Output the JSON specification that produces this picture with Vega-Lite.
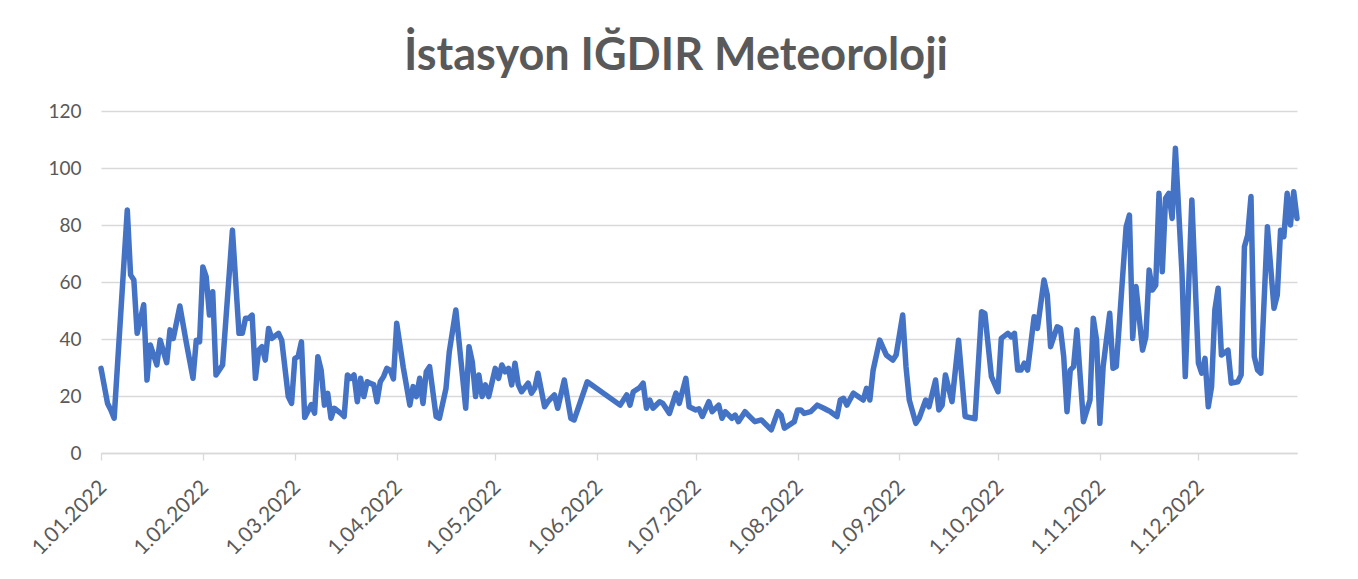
{
  "$schema": "https://vega.github.io/schema/vega-lite/v6.json",
  "width": 1196,
  "height": 342,
  "autosize": {"type": "none"},
  "padding": {"left": 101, "top": 111, "right": 61, "bottom": 126},
  "background": "white",
  "title": {
    "text": "İstasyon IĞDIR Meteoroloji",
    "font": "Lato, sans-serif",
    "fontSize": 45,
    "fontWeight": "bold",
    "color": "#595959",
    "anchor": "middle",
    "baseline": "alphabetic",
    "offset": 38,
    "dy": 51,
    "dx": -23
  },
  "config": {
    "view": {"stroke": null},
    "axis": {
      "labelFont": "Lato, sans-serif",
      "labelFontSize": 19,
      "labelColor": "#595959",
      "gridColor": "#D9D9D9",
      "gridWidth": 1.3,
      "domainColor": "#D9D9D9",
      "domainWidth": 1.3,
      "tickColor": "#D9D9D9",
      "tickWidth": 1.3,
      "title": null
    }
  },
  "data": {
    "values": [
      {"date": "2022-01-01", "value": 29.7},
      {"date": "2022-01-03", "value": 17.4},
      {"date": "2022-01-04", "value": 15.1},
      {"date": "2022-01-05", "value": 12.2},
      {"date": "2022-01-09", "value": 85.3},
      {"date": "2022-01-10", "value": 62.5},
      {"date": "2022-01-11", "value": 60.7},
      {"date": "2022-01-12", "value": 42},
      {"date": "2022-01-14", "value": 52},
      {"date": "2022-01-15", "value": 25.6},
      {"date": "2022-01-16", "value": 37.9},
      {"date": "2022-01-18", "value": 30.9},
      {"date": "2022-01-19", "value": 39.6},
      {"date": "2022-01-21", "value": 31.7},
      {"date": "2022-01-22", "value": 43.2},
      {"date": "2022-01-23", "value": 40.2},
      {"date": "2022-01-25", "value": 51.6},
      {"date": "2022-01-27", "value": 38.5},
      {"date": "2022-01-29", "value": 26.2},
      {"date": "2022-01-30", "value": 39.6},
      {"date": "2022-01-31", "value": 39},
      {"date": "2022-02-01", "value": 65.3},
      {"date": "2022-02-02", "value": 61.9},
      {"date": "2022-02-03", "value": 48.4},
      {"date": "2022-02-04", "value": 56.6},
      {"date": "2022-02-05", "value": 27.4},
      {"date": "2022-02-07", "value": 30.9},
      {"date": "2022-02-10", "value": 78.2},
      {"date": "2022-02-12", "value": 42},
      {"date": "2022-02-13", "value": 42},
      {"date": "2022-02-14", "value": 47.3},
      {"date": "2022-02-15", "value": 47.3},
      {"date": "2022-02-16", "value": 48.4},
      {"date": "2022-02-17", "value": 26.2},
      {"date": "2022-02-18", "value": 36.1},
      {"date": "2022-02-19", "value": 37.3},
      {"date": "2022-02-20", "value": 32.6},
      {"date": "2022-02-21", "value": 43.7},
      {"date": "2022-02-22", "value": 40.2},
      {"date": "2022-02-24", "value": 42},
      {"date": "2022-02-25", "value": 39.6},
      {"date": "2022-02-27", "value": 19.8},
      {"date": "2022-02-28", "value": 17.4},
      {"date": "2022-03-01", "value": 33.2},
      {"date": "2022-03-02", "value": 33.8},
      {"date": "2022-03-03", "value": 39},
      {"date": "2022-03-04", "value": 12.5},
      {"date": "2022-03-06", "value": 17},
      {"date": "2022-03-07", "value": 14},
      {"date": "2022-03-08", "value": 33.8},
      {"date": "2022-03-09", "value": 29.1},
      {"date": "2022-03-10", "value": 16.8},
      {"date": "2022-03-11", "value": 20.9},
      {"date": "2022-03-12", "value": 12.2},
      {"date": "2022-03-13", "value": 15.7},
      {"date": "2022-03-15", "value": 13.9},
      {"date": "2022-03-16", "value": 12.8},
      {"date": "2022-03-17", "value": 27.4},
      {"date": "2022-03-18", "value": 26.2},
      {"date": "2022-03-19", "value": 27.4},
      {"date": "2022-03-20", "value": 18},
      {"date": "2022-03-21", "value": 26.2},
      {"date": "2022-03-22", "value": 19.8},
      {"date": "2022-03-23", "value": 25},
      {"date": "2022-03-24", "value": 24.4},
      {"date": "2022-03-25", "value": 24},
      {"date": "2022-03-26", "value": 18},
      {"date": "2022-03-27", "value": 25},
      {"date": "2022-03-28", "value": 26.8},
      {"date": "2022-03-29", "value": 29.7},
      {"date": "2022-03-30", "value": 29.1},
      {"date": "2022-03-31", "value": 26},
      {"date": "2022-04-01", "value": 45.5},
      {"date": "2022-04-03", "value": 30},
      {"date": "2022-04-05", "value": 16.8},
      {"date": "2022-04-06", "value": 23.3},
      {"date": "2022-04-07", "value": 19.8},
      {"date": "2022-04-08", "value": 26.2},
      {"date": "2022-04-09", "value": 17.4},
      {"date": "2022-04-10", "value": 28.5},
      {"date": "2022-04-11", "value": 30.3},
      {"date": "2022-04-13", "value": 12.8},
      {"date": "2022-04-14", "value": 12.2},
      {"date": "2022-04-16", "value": 22.7},
      {"date": "2022-04-17", "value": 35.5},
      {"date": "2022-04-19", "value": 50.2},
      {"date": "2022-04-22", "value": 15.7},
      {"date": "2022-04-23", "value": 37.3},
      {"date": "2022-04-24", "value": 32},
      {"date": "2022-04-25", "value": 19.8},
      {"date": "2022-04-26", "value": 27.4},
      {"date": "2022-04-27", "value": 19.8},
      {"date": "2022-04-28", "value": 23.9},
      {"date": "2022-04-29", "value": 19.8},
      {"date": "2022-05-01", "value": 29.7},
      {"date": "2022-05-02", "value": 26.2},
      {"date": "2022-05-03", "value": 30.9},
      {"date": "2022-05-04", "value": 28.5},
      {"date": "2022-05-05", "value": 29.7},
      {"date": "2022-05-06", "value": 23.9},
      {"date": "2022-05-07", "value": 31.5},
      {"date": "2022-05-08", "value": 24},
      {"date": "2022-05-09", "value": 21.5},
      {"date": "2022-05-11", "value": 24.5},
      {"date": "2022-05-12", "value": 21},
      {"date": "2022-05-13", "value": 22.7},
      {"date": "2022-05-14", "value": 28},
      {"date": "2022-05-16", "value": 16.2},
      {"date": "2022-05-17", "value": 18},
      {"date": "2022-05-19", "value": 20.4},
      {"date": "2022-05-20", "value": 15.7},
      {"date": "2022-05-22", "value": 25.6},
      {"date": "2022-05-24", "value": 12.2},
      {"date": "2022-05-25", "value": 11.6},
      {"date": "2022-05-29", "value": 25},
      {"date": "2022-06-08", "value": 16.8},
      {"date": "2022-06-10", "value": 20.4},
      {"date": "2022-06-11", "value": 16.8},
      {"date": "2022-06-12", "value": 21.5},
      {"date": "2022-06-14", "value": 23},
      {"date": "2022-06-15", "value": 24.5},
      {"date": "2022-06-16", "value": 15.7},
      {"date": "2022-06-17", "value": 18.6},
      {"date": "2022-06-18", "value": 15.7},
      {"date": "2022-06-20", "value": 18},
      {"date": "2022-06-21", "value": 17.4},
      {"date": "2022-06-23", "value": 13.9},
      {"date": "2022-06-25", "value": 21},
      {"date": "2022-06-26", "value": 17.4},
      {"date": "2022-06-28", "value": 26.2},
      {"date": "2022-06-29", "value": 16.2},
      {"date": "2022-07-01", "value": 15.1},
      {"date": "2022-07-02", "value": 15.5},
      {"date": "2022-07-03", "value": 12.8},
      {"date": "2022-07-05", "value": 18},
      {"date": "2022-07-06", "value": 14.5},
      {"date": "2022-07-08", "value": 16.8},
      {"date": "2022-07-09", "value": 12.2},
      {"date": "2022-07-10", "value": 14.5},
      {"date": "2022-07-12", "value": 12.2},
      {"date": "2022-07-13", "value": 13.3},
      {"date": "2022-07-14", "value": 11},
      {"date": "2022-07-16", "value": 14.5},
      {"date": "2022-07-17", "value": 13.3},
      {"date": "2022-07-19", "value": 11},
      {"date": "2022-07-21", "value": 11.6},
      {"date": "2022-07-24", "value": 8.1},
      {"date": "2022-07-26", "value": 14.5},
      {"date": "2022-07-27", "value": 13.3},
      {"date": "2022-07-28", "value": 8.7},
      {"date": "2022-07-31", "value": 11},
      {"date": "2022-08-01", "value": 15.1},
      {"date": "2022-08-02", "value": 15.1},
      {"date": "2022-08-03", "value": 13.9},
      {"date": "2022-08-05", "value": 14.5},
      {"date": "2022-08-07", "value": 16.8},
      {"date": "2022-08-09", "value": 15.7},
      {"date": "2022-08-10", "value": 15.1},
      {"date": "2022-08-11", "value": 14.5},
      {"date": "2022-08-13", "value": 12.8},
      {"date": "2022-08-14", "value": 18.6},
      {"date": "2022-08-15", "value": 19.2},
      {"date": "2022-08-16", "value": 16.8},
      {"date": "2022-08-18", "value": 21},
      {"date": "2022-08-21", "value": 18.6},
      {"date": "2022-08-22", "value": 22.7},
      {"date": "2022-08-23", "value": 18.6},
      {"date": "2022-08-24", "value": 29.1},
      {"date": "2022-08-26", "value": 39.6},
      {"date": "2022-08-28", "value": 34.4},
      {"date": "2022-08-30", "value": 32.6},
      {"date": "2022-08-31", "value": 34.4},
      {"date": "2022-09-02", "value": 48.4},
      {"date": "2022-09-03", "value": 30.3},
      {"date": "2022-09-04", "value": 18.6},
      {"date": "2022-09-06", "value": 10.4},
      {"date": "2022-09-07", "value": 12.2},
      {"date": "2022-09-09", "value": 18.6},
      {"date": "2022-09-10", "value": 16.2},
      {"date": "2022-09-12", "value": 25.6},
      {"date": "2022-09-13", "value": 15.1},
      {"date": "2022-09-14", "value": 16.8},
      {"date": "2022-09-15", "value": 27.4},
      {"date": "2022-09-17", "value": 18},
      {"date": "2022-09-19", "value": 39.6},
      {"date": "2022-09-21", "value": 12.8},
      {"date": "2022-09-24", "value": 12},
      {"date": "2022-09-26", "value": 49.6},
      {"date": "2022-09-27", "value": 49},
      {"date": "2022-09-29", "value": 26.8},
      {"date": "2022-10-01", "value": 21.5},
      {"date": "2022-10-02", "value": 40.2},
      {"date": "2022-10-04", "value": 42},
      {"date": "2022-10-05", "value": 40.8},
      {"date": "2022-10-06", "value": 42},
      {"date": "2022-10-07", "value": 29.1},
      {"date": "2022-10-08", "value": 29.1},
      {"date": "2022-10-09", "value": 31.5},
      {"date": "2022-10-10", "value": 29.1},
      {"date": "2022-10-12", "value": 47.8},
      {"date": "2022-10-13", "value": 43.7},
      {"date": "2022-10-15", "value": 60.7},
      {"date": "2022-10-16", "value": 55.4},
      {"date": "2022-10-17", "value": 37.3},
      {"date": "2022-10-19", "value": 44.3},
      {"date": "2022-10-20", "value": 43.7},
      {"date": "2022-10-21", "value": 33.8},
      {"date": "2022-10-22", "value": 14.5},
      {"date": "2022-10-23", "value": 29.1},
      {"date": "2022-10-24", "value": 30.3},
      {"date": "2022-10-25", "value": 43.2},
      {"date": "2022-10-27", "value": 11},
      {"date": "2022-10-29", "value": 18.6},
      {"date": "2022-10-30", "value": 47.3},
      {"date": "2022-10-31", "value": 39.6},
      {"date": "2022-11-01", "value": 10.4},
      {"date": "2022-11-02", "value": 30.3},
      {"date": "2022-11-04", "value": 49},
      {"date": "2022-11-05", "value": 29.7},
      {"date": "2022-11-06", "value": 30.3},
      {"date": "2022-11-09", "value": 79.4},
      {"date": "2022-11-10", "value": 83.5},
      {"date": "2022-11-11", "value": 40.2},
      {"date": "2022-11-12", "value": 58.4},
      {"date": "2022-11-14", "value": 36.1},
      {"date": "2022-11-15", "value": 40.8},
      {"date": "2022-11-16", "value": 64.2},
      {"date": "2022-11-17", "value": 57.2},
      {"date": "2022-11-18", "value": 58.9},
      {"date": "2022-11-19", "value": 91.1},
      {"date": "2022-11-20", "value": 63.6},
      {"date": "2022-11-21", "value": 89.4},
      {"date": "2022-11-22", "value": 91.1},
      {"date": "2022-11-23", "value": 82.3},
      {"date": "2022-11-24", "value": 106.9},
      {"date": "2022-11-26", "value": 63},
      {"date": "2022-11-27", "value": 26.8},
      {"date": "2022-11-29", "value": 88.8},
      {"date": "2022-12-01", "value": 31.5},
      {"date": "2022-12-02", "value": 28},
      {"date": "2022-12-03", "value": 33.2},
      {"date": "2022-12-04", "value": 16.2},
      {"date": "2022-12-05", "value": 23.3},
      {"date": "2022-12-06", "value": 50.2},
      {"date": "2022-12-07", "value": 57.8},
      {"date": "2022-12-08", "value": 34.4},
      {"date": "2022-12-10", "value": 36.1},
      {"date": "2022-12-11", "value": 24.5},
      {"date": "2022-12-13", "value": 25},
      {"date": "2022-12-14", "value": 27.4},
      {"date": "2022-12-15", "value": 72.4},
      {"date": "2022-12-16", "value": 76.5},
      {"date": "2022-12-17", "value": 90},
      {"date": "2022-12-18", "value": 33.8},
      {"date": "2022-12-19", "value": 29.1},
      {"date": "2022-12-20", "value": 28},
      {"date": "2022-12-22", "value": 79.4},
      {"date": "2022-12-24", "value": 50.8},
      {"date": "2022-12-25", "value": 55.4},
      {"date": "2022-12-26", "value": 78.2},
      {"date": "2022-12-27", "value": 75.9},
      {"date": "2022-12-28", "value": 91.1},
      {"date": "2022-12-29", "value": 80},
      {"date": "2022-12-30", "value": 91.7},
      {"date": "2022-12-31", "value": 82.3}
    ]
  },
  "mark": {
    "type": "line",
    "color": "#4472C4",
    "strokeWidth": 5.5,
    "strokeJoin": "round",
    "strokeCap": "round",
    "clip": false
  },
  "encoding": {
    "x": {
      "field": "date",
      "type": "temporal",
      "scale": {
        "type": "utc",
        "domain": [
          {"year": 2022, "month": 1, "date": 1, "utc": true},
          {"year": 2022, "month": 12, "date": 31, "utc": true}
        ]
      },
      "axis": {
        "format": "%-d.%m.%Y",
        "tickCount": {"interval": "month", "step": 1},
        "grid": false,
        "ticks": true,
        "tickSize": 7,
        "labelAngle": -45,
        "labelAlign": "right",
        "labelBaseline": "middle",
        "labelFontSize": 21,
        "labelPadding": 24,
        "labelOffset": 2,
        "labelFlush": false,
        "labelOverlap": false
      }
    },
    "y": {
      "field": "value",
      "type": "quantitative",
      "scale": {"domain": [0, 120], "nice": false},
      "axis": {
        "values": [0, 20, 40, 60, 80, 100, 120],
        "domain": false,
        "ticks": false,
        "grid": true,
        "labelPadding": 20
      }
    }
  }
}
